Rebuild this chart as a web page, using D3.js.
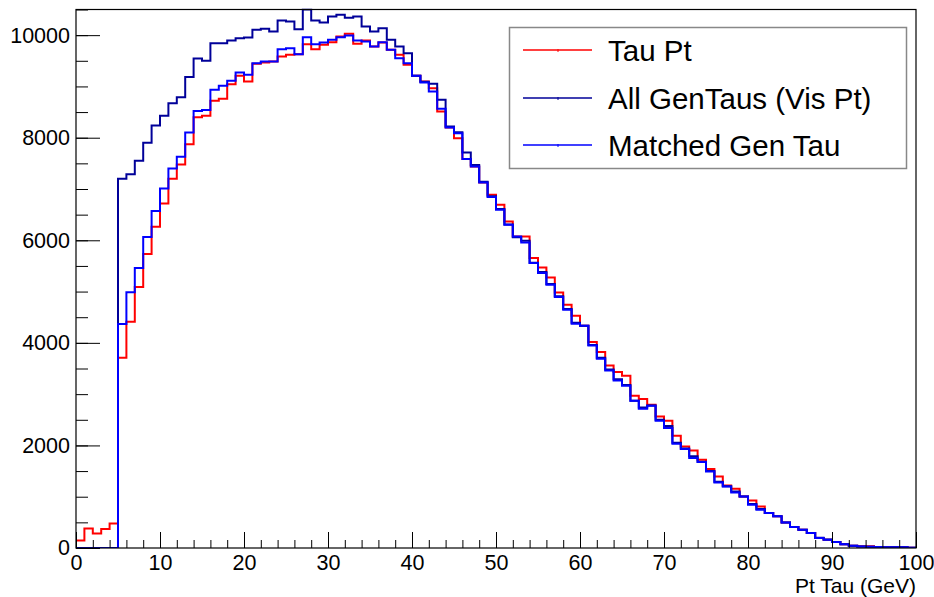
<!DOCTYPE html>
<html>
<head>
<meta charset="utf-8">
<script src="https://cdn.jsdelivr.net/npm/d3@7"></script>
<style>
  body { margin: 0; background: #fff; }
  text { font-family: "Liberation Sans", Arial, sans-serif; }
</style>
</head>
<body>
<script>
// bin edges: 100 bins of 1 GeV, 0..100
var binLow = d3.range(0, 100);

// Tau Pt (red)
var tauPt = [144,380,282,372,477,3709,4410,5091,5731,6266,
  6718,7198,7476,7872,8400,8427,8720,8759,9044,9207,
  9096,9441,9467,9486,9584,9616,9629,9824,9727,9811,
  9863,9973,10025,9830,9895,9778,9856,9713,9616,9421,
  9207,9096,8966,8511,8199,7992,7583,7439,7127,6887,
  6692,6367,6075,6075,5653,5470,5275,4983,4743,4529,
  4334,4016,3821,3560,3430,3359,2969,2904,2793,2566,
  2481,2189,1981,1903,1721,1540,1396,1220,1156,1006,
  928,811,682,617,499,409,357,292,195,162,
  117,71,45,32,32,19,13,13,13,6];

// All GenTaus (Vis Pt) (dark blue)
var allGen = [0,0,0,0,0,7198,7288,7553,7900,8240,
  8428,8671,8789,9185,9547,9500,9843,9843,9895,9941,
  9954,10103,10123,10071,10285,10266,10116,10500,10285,10246,
  10363,10396,10340,10363,10168,10071,10136,9908,9779,9649,
  9207,9090,9051,8739,8219,8108,7712,7470,7140,6860,
  6610,6310,6060,5990,5560,5380,5150,4910,4660,4390,
  4334,3960,3710,3480,3290,3180,2870,2740,2780,2500,
  2380,2050,1940,1790,1680,1500,1290,1205,1100,1006,
  860,760,682,617,499,409,357,292,200,165,
  117,71,45,30,26,19,13,13,16,6];

// Matched Gen Tau (blue)
var matched = [0,0,0,0,0,4369,4988,5461,6066,6573,
  7011,7400,7629,8102,8519,8540,8934,9012,9109,9272,
  9226,9454,9486,9486,9727,9746,9629,9960,9824,9857,
  9909,9960,9993,9895,9876,9778,9863,9713,9551,9454,
  9207,9077,8901,8563,8199,8089,7583,7439,7127,6842,
  6595,6302,6075,5958,5556,5361,5133,4893,4645,4373,
  4334,3950,3690,3462,3268,3164,2871,2716,2774,2481,
  2339,2033,1930,1755,1676,1494,1279,1201,1084,1006,
  844,747,682,617,499,409,357,292,195,162,
  117,71,45,30,26,19,13,13,16,6];

var seriesNames = ["Tau Pt", "All GenTaus (Vis Pt)", "Matched Gen Tau"];
var seriesColors = ["#ff0000", "#000099", "#0000ff"];
var seriesData = [tauPt, allGen, matched];

var yMajor = d3.range(0, 10001, 2000);
var yMinor = d3.range(0, 10501, 500);
var xMajor = d3.range(0, 101, 10);
var xMinor = d3.range(0, 101, 2);

var width = 934, height = 597;
var frameLeft = 76, frameRight = 916, frameTop = 9.5, frameBottom = 548;
var labelFont = 21.5;

var svg = d3.select("body").append("svg")
    .attr("width", width)
    .attr("height", height);

var x = d3.scaleLinear().domain([0, 100]).range([frameLeft, frameRight]);
var y = d3.scaleLinear().domain([0, 10500]).range([frameBottom, frameTop]);

svg.append("clipPath").attr("id", "frameClip")
  .append("rect")
    .attr("x", frameLeft).attr("y", frameTop - 1)
    .attr("width", frameRight - frameLeft).attr("height", frameBottom - frameTop + 1);

// histograms as step lines
var line = d3.line()
    .x(function(d) { return x(d[0]); })
    .y(function(d) { return y(d[1]); })
    .curve(d3.curveStepAfter);

var hists = svg.append("g").attr("clip-path", "url(#frameClip)");
seriesData.forEach(function(vals, k) {
  var pts = binLow.map(function(b, i) { return [b, vals[i]]; });
  pts.push([100, vals[vals.length - 1]]);
  hists.append("path")
    .attr("d", line(pts))
    .attr("fill", "none")
    .attr("stroke", seriesColors[k])
    .attr("stroke-width", 2);
});

// y axis (ticks inside the frame)
svg.append("g")
    .attr("transform", "translate(" + frameLeft + ",0)")
    .call(d3.axisLeft(y).tickValues(yMinor).tickSize(-12).tickFormat(""))
    .call(function(g) { g.select(".domain").remove(); });

svg.append("g")
    .attr("transform", "translate(" + frameLeft + ",0)")
    .call(d3.axisLeft(y).tickValues(yMajor).tickSize(-24).tickPadding(6).tickFormat(d3.format("d")))
    .call(function(g) {
      g.select(".domain").remove();
      g.selectAll("text").attr("font-size", labelFont).attr("fill", "#000")
        .style("font-family", "'Liberation Sans', Arial, sans-serif");
    });

// x axis (ticks pointing up)
svg.append("g")
    .attr("transform", "translate(0," + frameBottom + ")")
    .call(d3.axisBottom(x).tickValues(xMinor).tickSize(-8).tickFormat(""))
    .call(function(g) { g.select(".domain").remove(); });

svg.append("g")
    .attr("transform", "translate(0," + frameBottom + ")")
    .call(d3.axisBottom(x).tickValues(xMajor).tickSize(-16).tickFormat(d3.format("d")))
    .call(function(g) {
      g.select(".domain").remove();
      g.selectAll("text").attr("y", 7).attr("dy", "0.71em").attr("font-size", labelFont).attr("fill", "#000")
        .style("font-family", "'Liberation Sans', Arial, sans-serif");
    });

// frame
svg.append("rect")
    .attr("x", frameLeft).attr("y", frameTop)
    .attr("width", frameRight - frameLeft).attr("height", frameBottom - frameTop)
    .attr("fill", "none")
    .attr("stroke", "#000")
    .attr("stroke-width", 1.2);

// x title
svg.append("text")
    .attr("x", frameRight)
    .attr("y", 593)
    .attr("text-anchor", "end")
    .attr("font-size", 21)
    .text("Pt Tau (GeV)");

// legend
var legend = svg.append("g");
legend.append("rect")
    .attr("x", 509.5).attr("y", 27.5)
    .attr("width", 397).attr("height", 141)
    .attr("fill", "#fff")
    .attr("stroke", "#888")
    .attr("stroke-width", 1.5);

var legendY = [50, 98, 145];
seriesNames.forEach(function(name, k) {
  legend.append("line")
    .attr("x1", 523).attr("x2", 592)
    .attr("y1", legendY[k]).attr("y2", legendY[k])
    .attr("stroke", seriesColors[k])
    .attr("stroke-width", 1.5);
  legend.append("line")
    .attr("x1", 558).attr("x2", 558)
    .attr("y1", legendY[k] - 1).attr("y2", legendY[k] + 2)
    .attr("stroke", seriesColors[k])
    .attr("stroke-width", 1);
  legend.append("text")
    .attr("x", 608)
    .attr("y", legendY[k])
    .attr("dy", "0.36em")
    .attr("font-size", 29.5)
    .attr("fill", "#000")
    .text(name);
});
</script>
</body>
</html>
